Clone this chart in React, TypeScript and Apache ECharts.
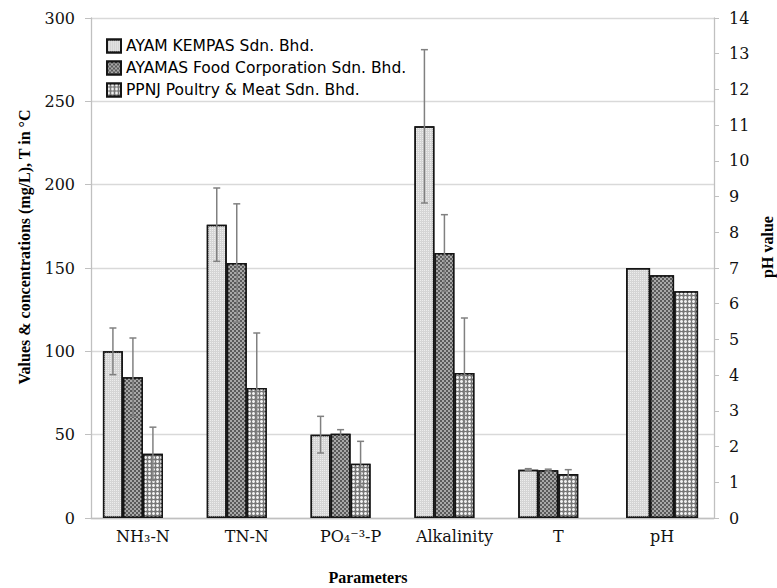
import React, { useEffect, useRef } from "react";
import * as echarts from "echarts";

const categories = ["NH₃-N", "TN-N", "PO₄⁻³-P", "Alkalinity", "T", "pH"];
const seriesNames = [
  "AYAM KEMPAS Sdn. Bhd.",
  "AYAMAS Food Corporation Sdn. Bhd.",
  "PPNJ Poultry & Meat Sdn. Bhd.",
];
// primary axis values (mg/L, T in °C) for the first five parameters
const ayamKempas = [100, 176, 50, 235, 29];
const ayamas = [84.5, 153, 50.5, 159, 28.7];
const ppnj = [38.5, 78, 32.5, 87, 26.4];
// standard deviations
const ayamKempasErr = [14, 22, 11, 46, 0.6];
const ayamasErr = [23.5, 35.5, 2.5, 23, 0.6];
const ppnjErr = [16, 33, 13.5, 33, 2.6];
// pH values (secondary axis)
const phValues = [7.0, 6.8, 6.35];

const leftMin = 0, leftMax = 300, leftInterval = 50;
const rightMin = 0, rightMax = 14, rightInterval = 1;

const BAR_W = 20;
const PH_BAR_W = 24;

const fills = [
  {
    color: "#d5d5d5",
    decal: { symbol: "rect", color: "#ededed", dashArrayX: [1, 1], dashArrayY: [1, 1], symbolSize: 1 },
  },
  {
    color: "#5a5a5a",
    decal: { symbol: "rect", color: "#a8a8a8", dashArrayX: [[2, 2], [0, 2, 2, 0]], dashArrayY: [2, 0], symbolSize: 1 },
  },
  {
    color: "#767676",
    decal: { symbol: "circle", color: "#f0f0f0", dashArrayX: [3, 1], dashArrayY: [3, 1], symbolSize: 1 },
  },
];

export default function App() {
  const ref = useRef<HTMLDivElement>(null);
  useEffect(() => {
    if (!ref.current) return;
    const chart = echarts.init(ref.current, undefined, { renderer: "svg" });
    const primary = [ayamKempas, ayamas, ppnj];
    const errs = [ayamKempasErr, ayamasErr, ppnjErr];
    const nPrimary = primary[0].length;

    const barSeries: any[] = primary.map((vals, k) => ({
      type: "bar",
      name: seriesNames[k],
      xAxisIndex: 0,
      yAxisIndex: 0,
      barWidth: BAR_W,
      barGap: "0%",
      data: categories.map((_, i) => (i < nPrimary ? vals[i] : null)),
      itemStyle: {
        color: fills[k].color,
        decal: fills[k].decal,
        borderColor: "#151515",
        borderWidth: 1.5,
      },
      z: 2,
    }));
    // empty slot (keeps Excel-like cluster spacing)
    barSeries.push({
      type: "bar",
      name: "_slot",
      xAxisIndex: 0,
      yAxisIndex: 0,
      barWidth: BAR_W,
      barGap: "0%",
      data: categories.map(() => null),
    });
    const phSeries = phValues.map((v, k) => ({
      type: "bar",
      name: seriesNames[k],
      xAxisIndex: 1,
      yAxisIndex: 1,
      barWidth: PH_BAR_W,
      barGap: "0%",
      data: categories.map((_, i) => (i === categories.length - 1 ? v : null)),
      itemStyle: {
        color: fills[k].color,
        decal: fills[k].decal,
        borderColor: "#151515",
        borderWidth: 1.5,
      },
      z: 2,
    }));
    const errSeries = errs.map((e, k) => ({
      type: "custom",
      xAxisIndex: 0,
      yAxisIndex: 0,
      z: 5,
      silent: true,
      encode: { x: 0, y: 1 },
      data: e.map((ev, i) => [i, primary[k][i], ev]),
      renderItem: (params: any, api: any) => {
        const i = api.value(0);
        const v = api.value(1);
        const ev = api.value(2);
        const top = api.coord([i, v + ev]);
        const bot = api.coord([i, v - ev]);
        const x = top[0] + BAR_W * (k - 1.5);
        const c = 3.5;
        const st = { stroke: "#808080", lineWidth: 1.5 };
        return {
          type: "group",
          children: [
            { type: "line", shape: { x1: x, y1: top[1], x2: x, y2: bot[1] }, style: st },
            { type: "line", shape: { x1: x - c, y1: top[1], x2: x + c, y2: top[1] }, style: st },
            { type: "line", shape: { x1: x - c, y1: bot[1], x2: x + c, y2: bot[1] }, style: st },
          ],
        };
      },
    }));

    const tickFont = { fontFamily: "DejaVu Serif", fontSize: 16, color: "#111" };
    const option: any = {
      animation: false,
      backgroundColor: "#fff",
      grid: { left: 91, right: 63, top: 18, bottom: 70, containLabel: false },
      legend: {
        data: seriesNames,
        orient: "vertical",
        left: 101,
        top: 33,
        itemWidth: 14,
        itemHeight: 13,
        itemGap: 6,
        icon: "rect",
        selectedMode: false,
        textStyle: { fontFamily: "DejaVu Sans", fontSize: 15.5, color: "#000" },
      },
      xAxis: [
        {
          type: "category",
          data: categories,
          axisLine: { show: true, lineStyle: { color: "#c0c0c0", width: 1.3 } },
          axisTick: { show: false },
          axisLabel: { ...tickFont, margin: 10 },
        },
        {
          type: "category",
          data: categories,
          show: false,
        },
      ],
      yAxis: [
        {
          type: "value",
          min: leftMin,
          max: leftMax,
          interval: leftInterval,
          axisLine: { show: true, lineStyle: { color: "#c0c0c0", width: 1.3 } },
          axisTick: { show: true, length: 6, lineStyle: { color: "#c0c0c0" } },
          splitLine: { show: true, lineStyle: { color: "#d9d9d9", width: 1.3 } },
          axisLabel: { ...tickFont, margin: 16 },
        },
        {
          type: "value",
          position: "right",
          min: rightMin,
          max: rightMax,
          interval: rightInterval,
          axisLine: { show: true, lineStyle: { color: "#c0c0c0", width: 1.3 } },
          axisTick: { show: true, length: 5, lineStyle: { color: "#c0c0c0" } },
          splitLine: { show: false },
          axisLabel: { ...tickFont, margin: 15 },
        },
      ],
      graphic: [
        {
          type: "text",
          x: 24,
          y: 247,
          rotation: Math.PI / 2,
          style: {
            text: "Values & concentrations (mg/L), T in °C",
            fontFamily: "Liberation Serif",
            fontWeight: "bold",
            fontSize: 16,
            fill: "#000",
            textAlign: "center",
            textVerticalAlign: "middle",
          },
        },
        {
          type: "text",
          x: 767,
          y: 247,
          rotation: Math.PI / 2,
          style: {
            text: "pH value",
            fontFamily: "Liberation Serif",
            fontWeight: "bold",
            fontSize: 16,
            fill: "#000",
            textAlign: "center",
            textVerticalAlign: "middle",
          },
        },
        {
          type: "text",
          x: 368,
          y: 577,
          style: {
            text: "Parameters",
            fontFamily: "Liberation Serif",
            fontWeight: "bold",
            fontSize: 16,
            fill: "#000",
            textAlign: "center",
            textVerticalAlign: "middle",
          },
        },
      ],
      series: [...barSeries, ...phSeries, ...errSeries],
    };
    chart.setOption(option);
    return () => chart.dispose();
  }, []);
  return (
    <div
      ref={ref}
      style={{ position: "absolute", left: 0, top: 0, width: 777, height: 588 }}
    />
  );
}
